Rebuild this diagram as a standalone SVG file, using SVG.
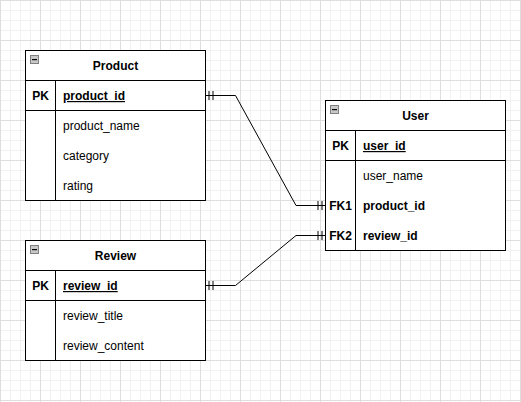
<svg xmlns="http://www.w3.org/2000/svg" width="521" height="402" viewBox="0 0 521 402">
<style>
.tbl{fill:#fff;stroke:#000;stroke-width:1}
.ln{stroke:#000;stroke-width:1;fill:none}
text{font-family:"Liberation Sans",Arial,sans-serif;font-size:12px;fill:#000}
.b{font-weight:bold}
.c{text-anchor:middle}
.u{text-decoration:underline}
.ico{fill:#c8c8c8;stroke:#808080;stroke-width:1}
</style>
<defs>
<pattern id="minor" width="10" height="10" patternUnits="userSpaceOnUse">
<rect x="0" y="0" width="10" height="1" fill="#f1f1f1"/>
<rect x="0" y="0" width="1" height="10" fill="#f1f1f1"/>
</pattern>
<pattern id="major" width="40" height="40" patternUnits="userSpaceOnUse">
<rect x="0" y="0" width="40" height="1" fill="#dedede"/>
<rect x="0" y="0" width="1" height="40" fill="#dedede"/>
</pattern>
<g id="minus">
<rect class="ico" x="0.5" y="0.5" width="8" height="8"/>
<rect x="2" y="4" width="5" height="1.2" fill="#000"/>
</g>
</defs>
<rect width="521" height="402" fill="#fff"/>
<rect width="521" height="402" fill="url(#minor)"/>
<rect width="521" height="402" fill="url(#major)"/>

<g id="connectors">
<path class="ln" d="M205.5 95.5 H235.5 L296 205.5 H325.5"/>
<path class="ln" d="M209 91 V100 M213 91 V100 M318 201 V210 M322 201 V210"/>
<path class="ln" d="M205.5 285.5 H235.5 L296 235.5 H325.5"/>
<path class="ln" d="M209 281 V290 M213 281 V290 M318 231 V240 M322 231 V240"/>
</g>

<g id="product">
<rect class="tbl" x="25.5" y="50.5" width="180" height="150"/>
<path class="ln" d="M25.5 80.5 H205.5 M25.5 110.5 H205.5 M55.5 80.5 V200.5"/>
<use href="#minus" x="30" y="55"/>
<text class="b c" x="115.5" y="70">Product</text>
<text class="b c" x="40.5" y="100">PK</text>
<text class="b u" x="63" y="100">product_id</text>
<text x="63" y="130">product_name</text>
<text x="63" y="160">category</text>
<text x="63" y="190">rating</text>
</g>

<g id="review">
<rect class="tbl" x="25.5" y="240.5" width="180" height="120"/>
<path class="ln" d="M25.5 270.5 H205.5 M25.5 300.5 H205.5 M55.5 270.5 V360.5"/>
<use href="#minus" x="30" y="245"/>
<text class="b c" x="115.5" y="260">Review</text>
<text class="b c" x="40.5" y="290">PK</text>
<text class="b u" x="63" y="290">review_id</text>
<text x="63" y="320">review_title</text>
<text x="63" y="350">review_content</text>
</g>

<g id="user">
<rect class="tbl" x="325.5" y="100.5" width="180" height="150"/>
<path class="ln" d="M325.5 130.5 H505.5 M325.5 160.5 H505.5 M355.5 130.5 V250.5"/>
<use href="#minus" x="330" y="105"/>
<text class="b c" x="415.5" y="120">User</text>
<text class="b c" x="340.5" y="150">PK</text>
<text class="b u" x="363" y="150">user_id</text>
<text x="363" y="180">user_name</text>
<text class="b c" x="340.5" y="210">FK1</text>
<text class="b" x="363" y="210">product_id</text>
<text class="b c" x="340.5" y="240">FK2</text>
<text class="b" x="363" y="240">review_id</text>
</g>
</svg>
